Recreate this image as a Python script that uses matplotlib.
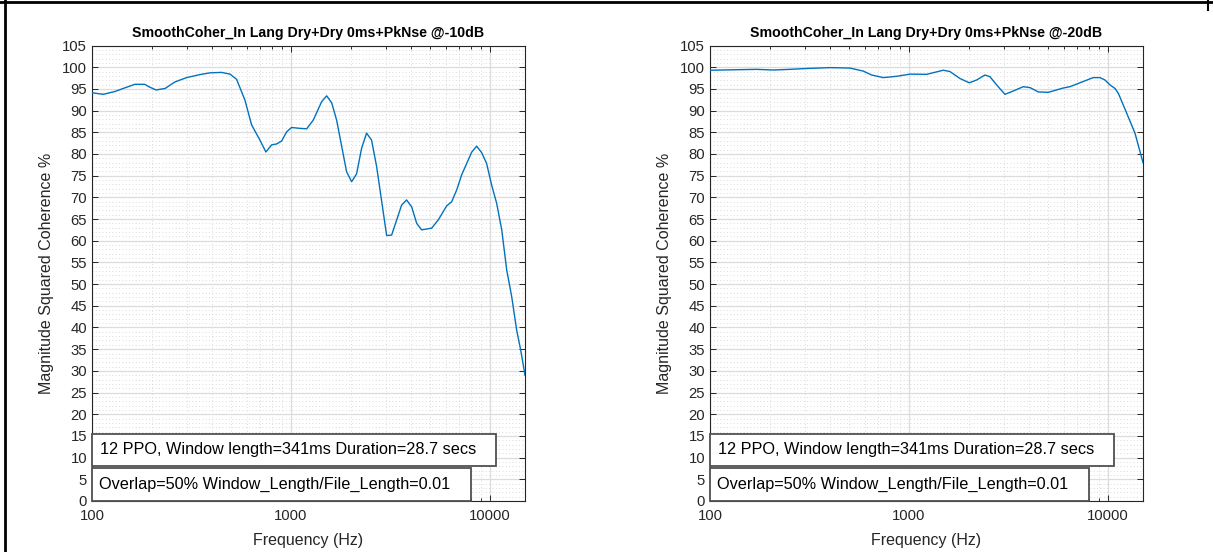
import numpy as np
import matplotlib
matplotlib.use("Agg")
import matplotlib.pyplot as plt
from matplotlib.patches import Rectangle
from matplotlib.lines import Line2D
from matplotlib.ticker import FixedLocator, NullFormatter, MultipleLocator

plt.rcParams['font.family'] = ['Liberation Sans', 'DejaVu Sans']

# ---- data ----
freq_10dB = [100, 114, 130.5, 143.6, 164, 184, 195, 210, 233, 261, 299, 349, 392, 448, 494,
             533, 587, 634, 698, 748, 800, 847, 898, 951, 1007, 1109, 1199, 1294, 1426, 1511,
             1601, 1696, 1903, 2017, 2136, 2264, 2398, 2541, 2694, 3025, 3205, 3597, 3811,
             4042, 4283, 4538, 5094, 5499, 6055, 6422, 6805, 7210, 8092, 8573, 9084, 9620,
             10200, 10810, 11460, 12140, 12860, 13620, 14270, 15000]
coh_10dB = [94.1, 93.75, 94.4, 95.1, 96.05, 96.05, 95.4, 94.75, 95.1, 96.6, 97.6, 98.3, 98.7,
            98.8, 98.4, 97.2, 92.4, 86.7, 83.2, 80.45, 82.1, 82.3, 83.0, 85.1, 86.1, 85.9,
            85.8, 87.8, 92.05, 93.4, 91.8, 87.8, 75.9, 73.6, 75.4, 81.3, 84.8, 83.2, 77.1,
            61.2, 61.3, 68.2, 69.4, 67.8, 64.0, 62.5, 62.9, 64.8, 68.0, 69.0, 71.7, 75.2,
            80.4, 81.8, 80.3, 77.8, 72.8, 68.6, 62.5, 53.25, 47.1, 39.4, 34.8, 29.0]

freq_20dB = [100, 172, 208, 252, 306, 401, 505, 589, 649, 743, 867, 1012, 1227, 1487, 1606,
             1803, 2010, 2188, 2409, 2553, 2759, 3035, 3280, 3751, 4055, 4465, 5013, 5962,
             6437, 7512, 8436, 9114, 9659, 10240, 10850, 11270, 12420, 13670, 15000]
coh_20dB = [99.3, 99.5, 99.35, 99.5, 99.7, 99.9, 99.8, 99.1, 98.2, 97.6, 97.9, 98.4, 98.35,
            99.3, 99.0, 97.4, 96.4, 97.05, 98.2, 97.8, 95.9, 93.75, 94.35, 95.5, 95.3, 94.3,
            94.2, 95.2, 95.5, 96.7, 97.6, 97.6, 97.05, 95.9, 95.1, 94.0, 89.4, 84.8, 78.0]

titles = ["SmoothCoher_In Lang Dry+Dry 0ms+PkNse @-10dB",
          "SmoothCoher_In Lang Dry+Dry 0ms+PkNse @-20dB"]
info_line1 = "12 PPO, Window length=341ms Duration=28.7 secs"
info_line2 = "Overlap=50% Window_Length/File_Length=0.01"
x_ticks = [100, 1000, 10000]
x_tick_labels = ["100", "1000", "10000"]
y_ticks = list(range(0, 106, 5))

# ---- figure ----
W, H = 1213, 552
fig = plt.figure(figsize=(W / 100, H / 100), dpi=100)

ax_w = 433 / W
ax_h = 455.5 / H
ax_b = (H - 501) / H
lefts = [92 / W, 710 / W]

axis_col = '#262626'
line_col = '#0072BD'

series = [(freq_10dB, coh_10dB), (freq_20dB, coh_20dB)]
for i, (fx, fy) in enumerate(series):
    ax = fig.add_axes([lefts[i], ax_b, ax_w, ax_h])
    ax.plot(fx, fy, color=line_col, lw=1.0, zorder=3)
    ax.set_xscale('log')
    ax.set_xlim(100, 15000)
    ax.set_ylim(0, 105)
    ax.xaxis.set_major_locator(FixedLocator(x_ticks))
    ax.set_xticklabels(x_tick_labels)
    minors = [m * 10 ** e for e in range(2, 5) for m in range(2, 10) if m * 10 ** e <= 15000]
    ax.xaxis.set_minor_locator(FixedLocator(minors))
    ax.xaxis.set_minor_formatter(NullFormatter())
    ax.set_yticks(y_ticks)
    ax.yaxis.set_minor_locator(MultipleLocator(1))

    ax.grid(which='major', color='#dcdcdc', lw=0.9, ls='-', zorder=0)
    ax.grid(which='minor', color='#cfcfcf', lw=0.6, ls=(0, (1, 3)), zorder=0)
    ax.set_axisbelow(True)

    for sp in ax.spines.values():
        sp.set_color(axis_col)
        sp.set_linewidth(0.8)
    ax.tick_params(which='both', direction='in', top=True, right=True,
                   colors=axis_col, labelsize=10.7, width=0.7)
    ax.tick_params(which='major', length=4.5)
    ax.tick_params(which='minor', length=2.5)
    ax.tick_params(axis='x', which='major', pad=6)
    ax.tick_params(axis='y', which='minor', length=0)

    ax.set_title(titles[i], fontsize=10.2, fontweight='bold', color='black', pad=6)
    ax.set_xlabel("Frequency (Hz)", fontsize=11.5, color=axis_col, labelpad=7)
    ax.set_ylabel("Magnitude Squared Coherence %", fontsize=11.5, color=axis_col, labelpad=6)

    # info boxes
    r1 = Rectangle((0, 0.0768), 404 / 433, 0.147 - 0.0768, transform=ax.transAxes,
                   facecolor='white', edgecolor='#505050', lw=1.3, zorder=5, clip_on=False)
    r2 = Rectangle((0, 0.0), 379 / 433, 0.0724, transform=ax.transAxes,
                   facecolor='white', edgecolor='#505050', lw=1.3, zorder=5, clip_on=False)
    ax.add_patch(r1)
    ax.add_patch(r2)
    ax.text(0.0185, 0.112, info_line1, transform=ax.transAxes, fontsize=11.7,
            va='center', ha='left', color='black', zorder=6)
    ax.text(0.016, 0.0373, info_line2, transform=ax.transAxes, fontsize=11.7,
            va='center', ha='left', color='black', zorder=6)

# figure border
fig.add_artist(Line2D([0, 1], [1 - 2 / H, 1 - 2 / H], transform=fig.transFigure,
                      color='black', lw=2.0))
fig.add_artist(Line2D([4.5 / W, 4.5 / W], [0, 1], transform=fig.transFigure,
                      color='black', lw=2.0))
fig.add_artist(Line2D([1208 / W, 1208 / W], [1, 1 - 10 / H], transform=fig.transFigure,
                      color='black', lw=1.5))

fig.savefig("out.png", dpi=100)
